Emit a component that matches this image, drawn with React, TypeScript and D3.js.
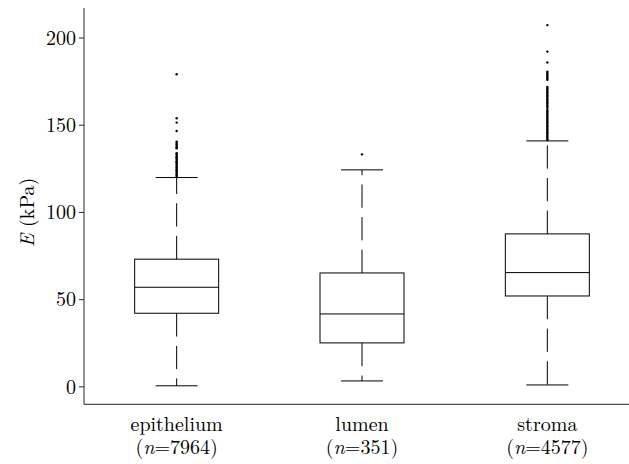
import React from 'react';
import * as d3 from 'd3';

// categories and their counts
const categories = ['epithelium', 'lumen', 'stroma'];
const counts = [7964, 351, 4577];

// box stats (kPa)
const whiskerLow = [0.6, 3.4, 1.1];
const q1 = [42.2, 25.2, 52.1];
const median = [57.1, 41.8, 65.5];
const q3 = [73.2, 65.3, 87.7];
const whiskerHigh = [120.0, 124.4, 141.0];

// outliers above the upper whisker
const outliersEpithelium = [
  179.2, 154.0, 151.5, 146.7, 140.6, 139.8, 139.0, 138.2, 137.4, 136.8,
  133.9, 133.2, 132.4, 131.7, 130.9, 130.2, 129.4, 128.7, 127.9, 127.2,
  126.4, 125.7, 124.9, 124.2, 123.4, 122.7, 121.9, 121.2, 120.5
];
const outliersLumen = [133.3];
const outliersStroma = [
  207.4, 192.2, 186.0, 180.7, 179.9, 179.1, 178.3, 177.5, 176.7, 176.0,
  172.0, 171.2, 170.4, 169.6, 168.8, 168.0, 167.2, 166.4, 165.6, 164.8,
  164.0, 163.2, 162.4, 161.6, 160.8, 160.0, 158.8, 158.0, 157.2, 156.4,
  155.6, 154.8, 154.0, 153.2, 152.4, 151.6, 150.8, 150.0, 149.2, 148.4,
  147.6, 146.8, 146.0, 145.2, 144.4, 143.6, 142.8, 142.0, 141.5
];

const yTicks = [0, 50, 100, 150, 200];

const width = 629, height = 464;
const font = "'Latin Modern Roman', 'Liberation Serif', serif";
const ink = '#000';
const axisInk = '#262626';
const boxW = 84;
const capW = 42;
const dash = '23.3,9.3';

const x = d3.scaleLinear().domain([0.5, 3.5]).range([84, 640]);
const y = d3.scaleLinear().domain([-10, 217.2]).range([404.3, 8]);

const outliers = [outliersEpithelium, outliersLumen, outliersStroma];
const data = categories.map((c, i) => ({
  name: c, n: counts[i], lo: whiskerLow[i], q1: q1[i], med: median[i],
  q3: q3[i], hi: whiskerHigh[i], out: outliers[i], pos: i + 1
}));

export default function App() {
  const x0 = x(0.5);
  return (
    <svg width={width} height={height}
      style={{ position: 'absolute', left: 0, top: 0, background: '#fff', fontFamily: font }}>
      {data.map(d => {
        const cx = x(d.pos);
        return (
          <g key={d.name}>
            {/* whiskers drawn outward from the box */}
            <line x1={cx} x2={cx} y1={y(d.q3)} y2={y(d.hi)} stroke={ink} strokeDasharray={dash} />
            <line x1={cx} x2={cx} y1={y(d.q1)} y2={y(d.lo)} stroke={ink} strokeDasharray={dash} />
            <line x1={cx - capW / 2} x2={cx + capW / 2} y1={y(d.hi)} y2={y(d.hi)} stroke={ink} />
            <line x1={cx - capW / 2} x2={cx + capW / 2} y1={y(d.lo)} y2={y(d.lo)} stroke={ink} />
            <rect x={cx - boxW / 2} y={y(d.q3)} width={boxW} height={y(d.q1) - y(d.q3)}
              fill="none" stroke={ink} />
            <line x1={cx - boxW / 2} x2={cx + boxW / 2} y1={y(d.med)} y2={y(d.med)} stroke={ink} />
            {d.out.map((v, j) => (
              <circle key={j} cx={cx} cy={y(v)} r={1.2} fill={ink} />
            ))}
            <text x={cx} y={431} textAnchor="middle" fontSize={20} fill={ink}>{d.name}</text>
            <text x={cx} y={454} textAnchor="middle" fontSize={20} fill={ink}>
              (<tspan fontStyle="italic">n</tspan>={d.n})
            </text>
          </g>
        );
      })}

      {/* y axis */}
      <line x1={x0} x2={x0} y1={y.range()[1]} y2={y.range()[0]} stroke={axisInk} />
      {yTicks.map(t => (
        <g key={t} transform={`translate(${x0},${y(t)})`}>
          <line x1={-5} x2={0} stroke={axisInk} />
          <text x={-8} dy="0.34em" textAnchor="end" fontSize={20} fill={ink}>{t}</text>
        </g>
      ))}

      {/* x axis line, no ticks */}
      <line x1={x0} x2={width} y1={y(-10)} y2={y(-10)} stroke={axisInk} />

      {/* y label */}
      <text transform={`translate(34,${y(100)}) rotate(-90)`} textAnchor="middle" fontSize={20} fill={ink}>
        <tspan fontStyle="italic">E</tspan> (kPa)
      </text>
    </svg>
  );
}
